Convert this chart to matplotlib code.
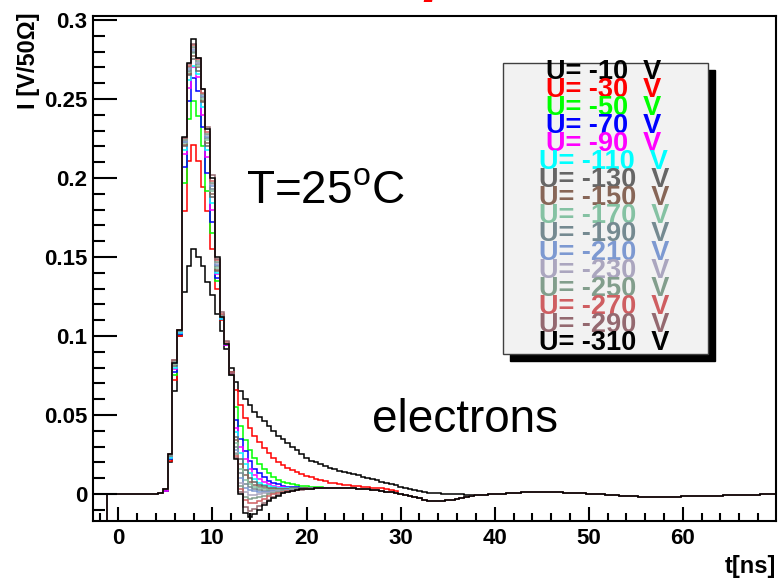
import numpy as np
import matplotlib.pyplot as plt
from matplotlib.patches import Rectangle
from matplotlib.ticker import FixedLocator, MultipleLocator, FuncFormatter

plt.rcParams['font.family'] = ['Liberation Sans', 'DejaVu Sans']
plt.rcParams['mathtext.fontset'] = 'custom'
plt.rcParams['mathtext.rm'] = 'Liberation Sans'

# bias voltages and their ROOT-like colours
voltages = [-10, -30, -50, -70, -90, -110, -130, -150, -170, -190,
            -210, -230, -250, -270, -290, -310]
colors = ['#000000', '#ff0000', '#00ff00', '#0000ff', '#ff00ff', '#00ffff',
          '#666666', '#876657', '#85c2a3', '#758a91', '#7d99d1', '#aba6bf',
          '#829e8c', '#cf5e61', '#946970', '#000000']

# histogram binning (0.5 ns bins starting at -1.25 ns)
t_start = -1.25
bin_width = 0.5

# bins -1.0 .. 4.5 ns
pre_pulse = [0.0, 0.0, 0.0, 0.0, 0.0, 0.0, 0.0, 0.0, 0.0, 0.0, 0.0, 0.0005]

# bins 5.0 .. 22.0 ns, one list per voltage
pulse_10 = [0.002, 0.020, 0.065, 0.100, 0.128, 0.144, 0.155, 0.150, 0.144, 0.134, 0.126,
            0.114, 0.103, 0.092, 0.080, 0.071, 0.065, 0.060, 0.056, 0.052, 0.049, 0.046, 0.043,
            0.040, 0.037, 0.035, 0.032, 0.030, 0.028, 0.025, 0.023, 0.021, 0.020, 0.019, 0.0175]
pulse_30 = [0.002, 0.021, 0.072, 0.100, 0.179, 0.211, 0.221, 0.211, 0.194, 0.179, 0.155,
            0.130, 0.110, 0.094, 0.077, 0.066, 0.056, 0.048, 0.042, 0.037, 0.033, 0.029, 0.026,
            0.023, 0.0205, 0.0185, 0.0165, 0.015, 0.0137, 0.0125, 0.0115, 0.0105, 0.0095, 0.0087, 0.008]
pulse_50 = [0.002, 0.022, 0.075, 0.101, 0.197, 0.237, 0.249, 0.239, 0.220, 0.192, 0.165,
            0.135, 0.111, 0.094, 0.076, 0.055, 0.043, 0.034, 0.028, 0.023, 0.019, 0.0155, 0.013,
            0.011, 0.009, 0.0078, 0.0068, 0.006, 0.0055, 0.0052, 0.005, 0.0047, 0.0045, 0.0043, 0.0041]
pulse_70 = [0.002, 0.022, 0.077, 0.101, 0.207, 0.249, 0.263, 0.255, 0.232, 0.203, 0.172,
            0.137, 0.111, 0.094, 0.076, 0.047, 0.035, 0.027, 0.021, 0.016, 0.013, 0.0105, 0.0085,
            0.007, 0.006, 0.0052, 0.0047, 0.0044, 0.0042, 0.0041, 0.004, 0.004, 0.004, 0.004, 0.004]
pulse_90 = [0.002, 0.023, 0.079, 0.102, 0.215, 0.257, 0.270, 0.264, 0.240, 0.213, 0.180,
            0.139, 0.111, 0.094, 0.075, 0.042, 0.030, 0.022, 0.016, 0.012, 0.0095, 0.0075, 0.006,
            0.005, 0.0045, 0.0042, 0.004, 0.0039, 0.0039, 0.0039, 0.0039, 0.0039, 0.0039, 0.0039, 0.004]
pulse_110 = [0.003, 0.023, 0.080, 0.102, 0.218, 0.262, 0.271, 0.266, 0.245, 0.218, 0.184,
             0.140, 0.111, 0.095, 0.075, 0.039, 0.026, 0.019, 0.013, 0.0095, 0.0072, 0.0058, 0.0048,
             0.0042, 0.004, 0.0038, 0.0037, 0.0037, 0.0037, 0.0038, 0.0038, 0.0038, 0.0039, 0.0039, 0.004]
pulse_130 = [0.003, 0.024, 0.081, 0.103, 0.220, 0.265, 0.275, 0.268, 0.248, 0.220, 0.188,
             0.141, 0.112, 0.095, 0.075, 0.036, 0.022, 0.015, 0.010, 0.0075, 0.0058, 0.0048, 0.004,
             0.0036, 0.0034, 0.0034, 0.0034, 0.0035, 0.0035, 0.0036, 0.0037, 0.0038, 0.0038, 0.0039, 0.004]
pulse_150 = [0.003, 0.024, 0.082, 0.103, 0.221, 0.266, 0.277, 0.270, 0.249, 0.222, 0.190,
             0.142, 0.112, 0.095, 0.075, 0.034, 0.019, 0.012, 0.0078, 0.0058, 0.0045, 0.0038, 0.0033,
             0.0031, 0.003, 0.003, 0.0031, 0.0032, 0.0033, 0.0034, 0.0035, 0.0036, 0.0037, 0.0038, 0.0039]
pulse_170 = [0.003, 0.024, 0.082, 0.103, 0.222, 0.267, 0.279, 0.271, 0.250, 0.224, 0.192,
             0.143, 0.112, 0.095, 0.075, 0.032, 0.016, 0.009, 0.006, 0.0045, 0.0036, 0.003, 0.0027,
             0.0026, 0.0026, 0.0027, 0.0028, 0.003, 0.0031, 0.0033, 0.0034, 0.0035, 0.0036, 0.0038, 0.0039]
pulse_190 = [0.003, 0.024, 0.083, 0.103, 0.223, 0.268, 0.280, 0.272, 0.251, 0.225, 0.193,
             0.144, 0.112, 0.095, 0.075, 0.030, 0.013, 0.0065, 0.0042, 0.0032, 0.0026, 0.0022, 0.0021,
             0.0021, 0.0022, 0.0024, 0.0026, 0.0028, 0.003, 0.0032, 0.0033, 0.0035, 0.0036, 0.0037, 0.0039]
pulse_210 = [0.003, 0.025, 0.083, 0.104, 0.223, 0.269, 0.281, 0.273, 0.252, 0.226, 0.195,
             0.145, 0.113, 0.095, 0.075, 0.028, 0.010, 0.004, 0.0025, 0.0018, 0.0015, 0.0014, 0.0015,
             0.0017, 0.0019, 0.0021, 0.0024, 0.0026, 0.0028, 0.003, 0.0032, 0.0034, 0.0036, 0.0037, 0.0039]
pulse_230 = [0.003, 0.025, 0.084, 0.104, 0.224, 0.270, 0.282, 0.273, 0.253, 0.227, 0.196,
             0.146, 0.113, 0.095, 0.075, 0.026, 0.007, 0.001, -0.0005, -0.0005, 0.0, 0.0004, 0.0008,
             0.0012, 0.0016, 0.0019, 0.0022, 0.0025, 0.0027, 0.003, 0.0032, 0.0034, 0.0036, 0.0037, 0.0039]
pulse_250 = [0.003, 0.025, 0.084, 0.104, 0.224, 0.270, 0.283, 0.274, 0.253, 0.228, 0.197,
             0.147, 0.113, 0.095, 0.075, 0.025, 0.005, -0.002, -0.003, -0.0028, -0.002, -0.001, 0.0,
             0.0007, 0.0012, 0.0017, 0.0021, 0.0024, 0.0027, 0.003, 0.0032, 0.0034, 0.0035, 0.0037, 0.0039]
pulse_270 = [0.003, 0.025, 0.085, 0.104, 0.225, 0.271, 0.284, 0.275, 0.254, 0.229, 0.198,
             0.148, 0.114, 0.096, 0.076, 0.024, 0.003, -0.004, -0.006, -0.0055, -0.0045, -0.003, -0.0015,
             -0.0003, 0.0006, 0.0013, 0.0018, 0.0022, 0.0026, 0.0029, 0.0031, 0.0033, 0.0035, 0.0037, 0.0039]
pulse_290 = [0.003, 0.025, 0.085, 0.104, 0.225, 0.272, 0.285, 0.276, 0.256, 0.232, 0.202,
             0.149, 0.115, 0.097, 0.077, 0.023, 0.001, -0.008, -0.0105, -0.0095, -0.0075, -0.0055, -0.0035,
             -0.0018, -0.0005, 0.0006, 0.0014, 0.002, 0.0025, 0.0028, 0.0031, 0.0033, 0.0035, 0.0037, 0.0039]
pulse_310 = [0.003, 0.025, 0.083, 0.104, 0.226, 0.273, 0.288, 0.276, 0.256, 0.231, 0.200,
             0.150, 0.112, 0.095, 0.075, 0.022, 0.000, -0.012, -0.0143, -0.0125, -0.010, -0.007, -0.0045,
             -0.0025, -0.001, 0.0005, 0.0015, 0.0022, 0.0027, 0.003, 0.0032, 0.0034, 0.0036, 0.0038, 0.0039]

# shared baseline after the pulse, bins 22.5 .. 70.0 ns
tail_common = [0.0040, 0.0039, 0.0038, 0.0037, 0.0036, 0.0035, 0.0033, 0.0031, 0.0029, 0.0026,
               0.0023, 0.0019, 0.0015, 0.0010, 0.0005, 0.0000, -0.0006, -0.0012, -0.0020, -0.0028,
               -0.0036, -0.0042, -0.0045, -0.0046, -0.0044, -0.0040, -0.0035, -0.0029, -0.0023, -0.0018,
               -0.0013, -0.0009, -0.0006, -0.0004, -0.0003, -0.0002, 0.0000, 0.0002, 0.0004, 0.0006,
               0.0008, 0.0010, 0.0012, 0.0014, 0.0015, 0.0015, 0.0015, 0.0014, 0.0012, 0.0010,
               0.0008, 0.0006, 0.0005, 0.0004, 0.0004, 0.0003, 0.0002, 0.0000, -0.0002, -0.0004,
               -0.0006, -0.0008, -0.0010, -0.0012, -0.0014, -0.0015, -0.0016, -0.0017, -0.0018, -0.0018,
               -0.0018, -0.0018, -0.0017, -0.0017, -0.0016, -0.0015, -0.0014, -0.0013, -0.0013, -0.0012,
               -0.0012, -0.0011, -0.0011, -0.0010, -0.0009, -0.0008, -0.0007, -0.0006, -0.0006, -0.0005,
               -0.0005, -0.0004, -0.0003, -0.0002, -0.0001, 0.0000]
# slower tails of the two lowest voltages, from 22.5 ns on
tail_10 = [0.0163, 0.0155, 0.0147, 0.0140, 0.0132, 0.0124, 0.0117, 0.0109, 0.0101, 0.0094,
           0.0086, 0.0078, 0.0070, 0.0063, 0.0055, 0.0047, 0.0040, 0.0032, 0.0024, 0.0016,
           0.0010, 0.0006, 0.0004, 0.0004, 0.0003, 0.0002, 0.0001, 0.0000, -0.0003, -0.0006, -0.0009]
tail_30 = [0.0072, 0.0067, 0.0062, 0.0058, 0.0054, 0.0051, 0.0048, 0.0045, 0.0043, 0.0041,
           0.0038, 0.0035, 0.0031, 0.0026, 0.0020]

pulses = [pulse_10, pulse_30, pulse_50, pulse_70, pulse_90, pulse_110, pulse_130, pulse_150,
          pulse_170, pulse_190, pulse_210, pulse_230, pulse_250, pulse_270, pulse_290, pulse_310]
tails = {-10: tail_10, -30: tail_30}

x_ticks = [0, 10, 20, 30, 40, 50, 60]
y_ticks = [0, 0.05, 0.1, 0.15, 0.2, 0.25, 0.3]
XMIN, XMAX = -2.7, 69.9
YMIN, YMAX = -0.0171, 0.3025

W, H = 778, 580
fig = plt.figure(figsize=(W / 100, H / 100), dpi=100)
ax = fig.add_axes([93 / W, 59 / H, 683 / W, 505 / H])

for v, c, p in zip(voltages, colors, pulses):
    y = np.array(pre_pulse + p + tail_common)
    if v in tails:
        k = len(pre_pulse) + len(p)
        y[k:k + len(tails[v])] = tails[v]
    edges = t_start + bin_width * np.arange(len(y) + 1)
    ax.stairs(y, edges, color=c, lw=1.1, baseline=YMIN)

ax.set_xlim(XMIN, XMAX)
ax.set_ylim(YMIN, YMAX)
ax.xaxis.set_major_locator(FixedLocator(x_ticks))
ax.yaxis.set_major_locator(FixedLocator(y_ticks))
ax.xaxis.set_minor_locator(MultipleLocator(2))
ax.yaxis.set_minor_locator(MultipleLocator(0.01))
ax.yaxis.set_major_formatter(FuncFormatter(lambda v, pos: f'{v:g}'))
ax.tick_params(which='both', direction='in', top=False, right=False, width=1.5, color='black')
ax.tick_params(axis='x', which='major', length=10, pad=5)
ax.tick_params(axis='x', which='minor', length=6)
ax.tick_params(axis='y', which='major', length=17, pad=4)
ax.tick_params(axis='y', which='minor', length=8.5)
for lab in ax.get_xticklabels() + ax.get_yticklabels():
    lab.set_fontsize(16)
    lab.set_fontweight('bold')
for s in ax.spines.values():
    s.set_linewidth(1.5)

fig.text(29 / W, 1 - 12 / H, 'I [V/50\u03a9]', rotation=90, ha='center', va='top',
         fontsize=17, fontweight='bold')
fig.text(776 / W, 1 - 566 / H, 't[ns]', ha='right', va='center', fontsize=17, fontweight='bold')
# bottom of the slide title, cut off by the top edge
fig.text(424 / W, 1 + 11 / H, 'p', color='red', ha='left', va='baseline', fontsize=44,
         fontweight='bold', style='italic')

ax.text(13.6, 0.192, r'T=25$^{\rm o}$C', fontsize=33, va='center', ha='left')
ax.text(27.0, 0.047, 'electrons', fontsize=33, va='center', ha='left')

# legend box with drop shadow
bx0, bx1 = 0.600, 0.900
by0, by1 = 0.331, 0.907
dx, dy = 7 / 683, 7 / 505
ax.add_patch(Rectangle((bx0 + dx, by0 - dy), bx1 - bx0, by1 - by0, transform=ax.transAxes,
                       facecolor='black', edgecolor='black', zorder=5))
ax.add_patch(Rectangle((bx0, by0), bx1 - bx0, by1 - by0, transform=ax.transAxes,
                       facecolor='#f2f2f2', edgecolor='#404040', lw=1, zorder=6))
ly0, ly1 = 0.8897, 0.3525
for i, (v, c) in enumerate(zip(voltages, colors)):
    ly = ly0 - i * (ly0 - ly1) / (len(voltages) - 1)
    ax.text(0.748, ly, f'U= {v}  V', color=c, ha='center', va='center', fontsize=19.5,
            fontweight='bold', transform=ax.transAxes, zorder=7)

fig.savefig('out.png', dpi=100)
